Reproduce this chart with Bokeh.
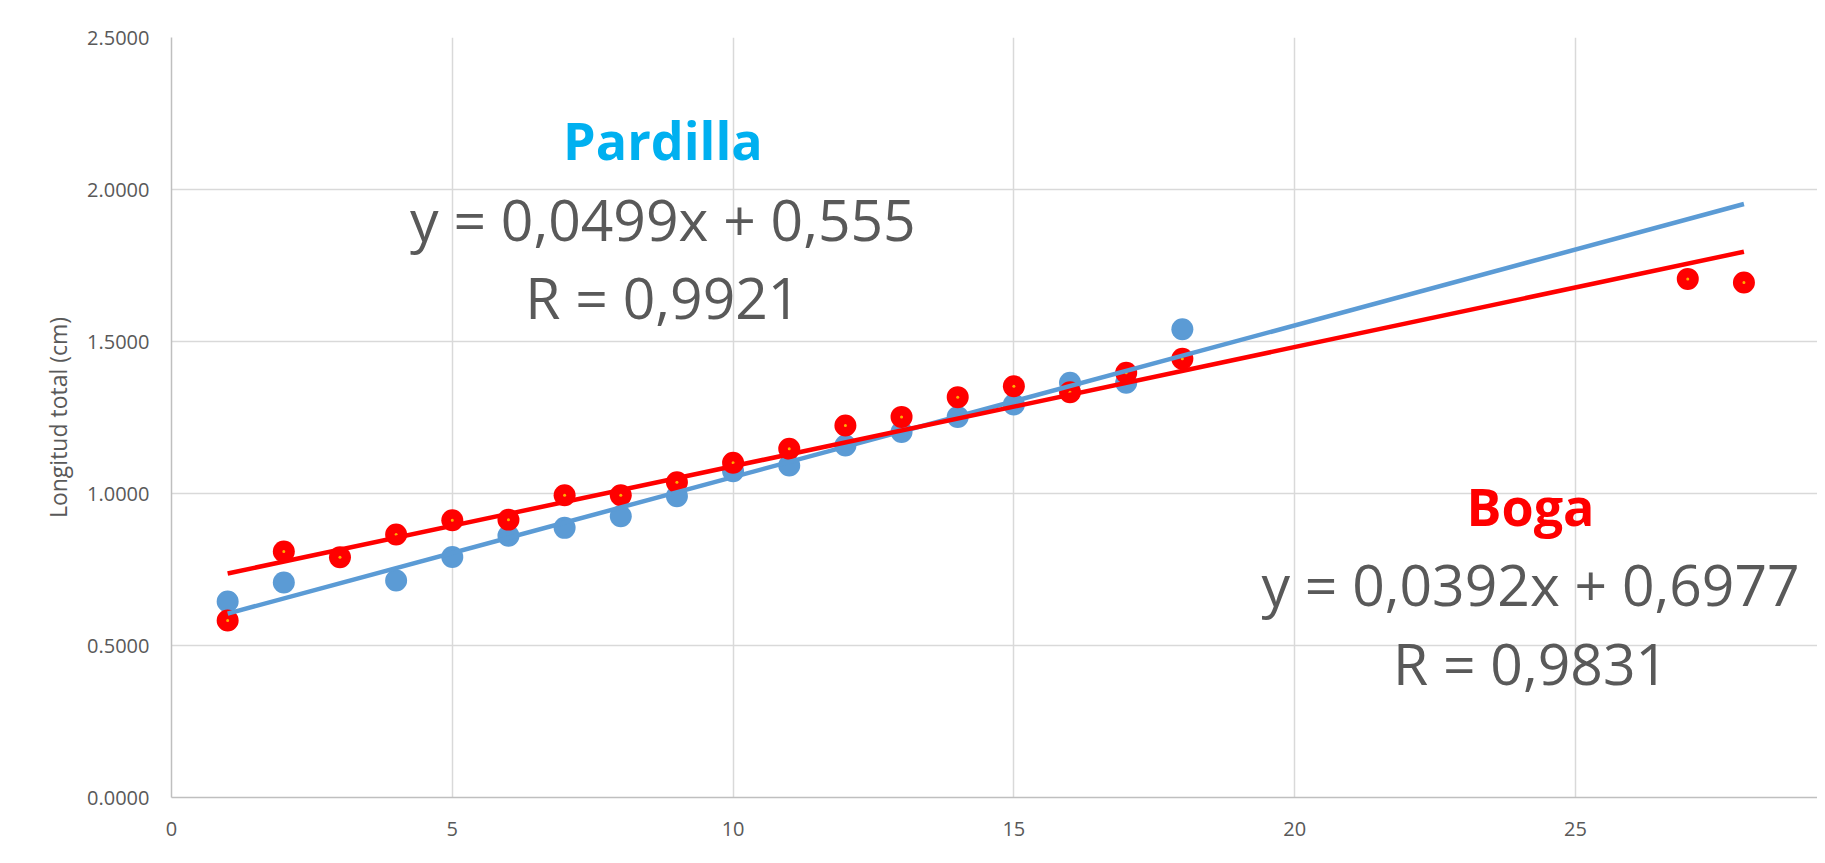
from bokeh.plotting import figure
from bokeh.models import Range1d, FixedTicker, NumeralTickFormatter, Label
from bokeh.embed import file_html
from bokeh.resources import INLINE

# ---- data ----
pardilla_dias = [1, 2, 4, 5, 6, 7, 8, 9, 10, 11, 12, 13, 14, 15, 16, 17, 18]
pardilla_long = [0.645, 0.707, 0.714, 0.791, 0.861, 0.887, 0.925, 0.991, 1.073,
                 1.092, 1.158, 1.202, 1.252, 1.293, 1.364, 1.364, 1.540]

boga_dias = [1, 2, 3, 4, 5, 6, 7, 8, 9, 10, 11, 12, 13, 14, 15, 16, 17, 18, 27, 28]
boga_long = [0.582, 0.809, 0.790, 0.865, 0.912, 0.914, 0.994, 0.994, 1.037, 1.101,
             1.147, 1.224, 1.252, 1.317, 1.353, 1.333, 1.397, 1.443, 1.706, 1.694]

# trendline coefficients as printed on the chart
pardilla_slope, pardilla_intercept = 0.0499, 0.555
boga_slope, boga_intercept = 0.0392, 0.6977
trend_x = [1, 28]

x_ticks = [0, 5, 10, 15, 20, 25]
y_ticks = [0.0, 0.5, 1.0, 1.5, 2.0, 2.5]

BLUE = "#5B9BD5"
RED = "#FF0000"
GRAY_TXT = "#595959"
GRID = "#D9D9D9"

p = figure(width=1817, height=863, output_backend="svg", toolbar_location=None,
           x_range=Range1d(0, 29.31), y_range=Range1d(0, 2.5),
           min_border_left=171, min_border_right=0, min_border_top=37,
           min_border_bottom=66)
p.outline_line_color = None
p.background_fill_color = "white"
p.border_fill_color = "white"

for ax in (p.xaxis[0], p.yaxis[0]):
    ax.axis_line_color = "#BFBFBF"
    ax.axis_line_width = 1.5
    ax.major_tick_line_color = None
    ax.minor_tick_line_color = None
    ax.major_tick_out = 0
    ax.major_tick_in = 0
    ax.major_label_text_color = GRAY_TXT
    ax.major_label_text_font = "Open Sans"
    ax.major_label_text_font_size = "20px"

p.xaxis.ticker = FixedTicker(ticks=x_ticks)
p.yaxis.ticker = FixedTicker(ticks=y_ticks)
p.yaxis.formatter = NumeralTickFormatter(format="0.0000")
p.xaxis.major_label_standoff = 24
p.yaxis.major_label_standoff = 22

p.yaxis.axis_label = "Longitud total (cm)"
p.yaxis.axis_label_text_font = "Open Sans"
p.yaxis.axis_label_text_font_style = "normal"
p.yaxis.axis_label_text_font_size = "23px"
p.yaxis.axis_label_text_color = GRAY_TXT
p.yaxis.axis_label_standoff = 10

p.xgrid.ticker = FixedTicker(ticks=x_ticks)
p.ygrid.ticker = FixedTicker(ticks=y_ticks)
p.grid.grid_line_color = GRID
p.grid.grid_line_width = 1.5

# markers
p.scatter(pardilla_dias, pardilla_long, size=22, color=BLUE, line_color=None)
p.scatter(boga_dias, boga_long, size=22, color=RED, line_color=None)
p.scatter(boga_dias, boga_long, size=3, color="#FFB000", line_color=None)

# trendlines
p.line(trend_x, [pardilla_slope * x + pardilla_intercept for x in trend_x],
       line_color=BLUE, line_width=4.5)
p.line(trend_x, [boga_slope * x + boga_intercept for x in trend_x],
       line_color=RED, line_width=4.5)

def add_label(x, y, text, color, size, bold=False):
    p.add_layout(Label(x=x, y=y, text=text, text_color=color,
                       text_font="Open Sans", text_font_size=size,
                       text_font_style="bold" if bold else "normal",
                       text_align="center", text_baseline="alphabetic"))

add_label(8.75, 2.163, "Pardilla", "#00B0F0", "52px", bold=True)
add_label(8.75, 1.903, "y = 0,0499x + 0,555", GRAY_TXT, "57px")
add_label(8.75, 1.647, "R = 0,9921", GRAY_TXT, "57px")
add_label(24.2, 0.959, "Boga", RED, "52px", bold=True)
add_label(24.2, 0.703, "y = 0,0392x + 0,6977", GRAY_TXT, "57px")
add_label(24.2, 0.443, "R = 0,9831", GRAY_TXT, "57px")

p.add_layout(Label(x=15.1, y=-0.172, text="Días", text_color=GRAY_TXT,
                   text_font="Open Sans", text_font_size="18px",
                   text_align="center", text_baseline="middle"))

open("out.html", "w").write(file_html(p, INLINE))
